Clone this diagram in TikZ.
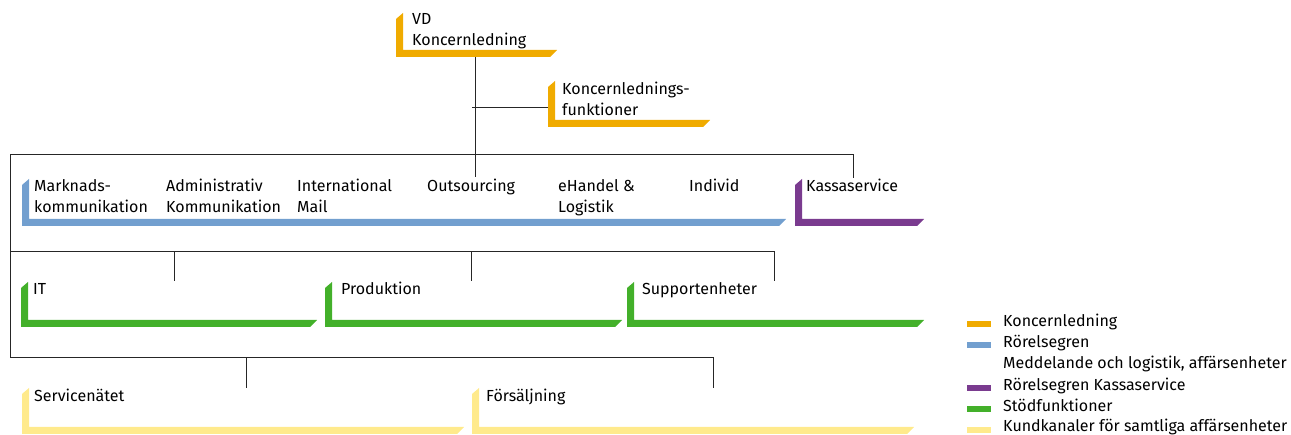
\documentclass[tikz,border=0pt]{standalone}
\usepackage{fontspec}
\setmainfont{Fira Sans}
\definecolor{ledning}{HTML}{F0AB00}
\definecolor{segment}{HTML}{729FCF}
\definecolor{kassa}{HTML}{7A3B8F}
\definecolor{stod}{HTML}{43B02A}
\definecolor{kanal}{HTML}{FFEA8C}
% L-shaped colour frame: colour, left x, top y, right x, bottom y
\newcommand{\unitframe}[5]{%
  \fill[#1] (#2,{#3+6}) -- ({#2+7},#3) -- ({#2+7},{#5-7}) -- (#4,{#5-7})
    -- ({#4-7},#5) -- (#2,#5) -- cycle;}

\begin{document}
\begin{tikzpicture}[x=1pt,y=-1pt]
\tikzset{unit/.style = {anchor=base west,inner sep=0pt,align=left,
  font=\fontsize{16}{20.5}\selectfont}}
\tikzset{link/.style = {black!85,line width=0.9pt}}
\tikzset{swatch/.style = {minimum width=24pt,minimum height=6pt,inner sep=0pt}}
\useasboundingbox (0,0) rectangle (1291,435);
% frames
\unitframe{ledning}{396}{13}{557}{57}
\unitframe{ledning}{548}{81}{710}{127}
\unitframe{segment}{22}{179}{786}{226}
\unitframe{kassa}{795}{179}{924}{226}
\unitframe{stod}{21}{282}{317}{327}
\unitframe{stod}{325}{282}{622}{327}
\unitframe{stod}{627}{282}{924}{327}
\unitframe{kanal}{22}{388}{464}{434}
\unitframe{kanal}{472}{388}{914}{434}
% units (two-line texts sit on the baseline of their last line)
\node[unit] (vd)    at (412,45.5)  {VD\\Koncernledning};
\node[unit] (kfunk) at (562,115.5) {Koncernlednings-\\funktioner};
\node[unit] (mark)  at (34,212.5)  {Marknads-\\kommunikation};
\node[unit] (adm)   at (166,212.5) {Administrativ\\Kommunikation};
\node[unit] (intl)  at (297,212.5) {International\\Mail};
\node[unit] (outs)  at (427,192)   {Outsourcing};
\node[unit] (ehan)  at (558,212.5) {eHandel \&\\Logistik};
\node[unit] (indi)  at (689,192)   {Individ};
\node[unit] (kass)  at (806,192)   {Kassaservice};
\node[unit] (it)    at (33,295)    {IT};
\node[unit] (prod)  at (341,295)   {Produktion};
\node[unit] (supp)  at (642,295)   {Supportenheter};
\node[unit] (serv)  at (34,402)    {Servicenätet};
\node[unit] (sale)  at (486,402)   {Försäljning};
% junctions
\coordinate (vdfoot)  at (475,57);
\coordinate (vdtick)  at (475,177);
\coordinate (kfbr)    at (472,107);
\coordinate (kfin)    at (548,107);
\coordinate (kasstop) at (853,178);
\coordinate (frametl) at (10,154);
\coordinate (frameml) at (10,251);
\coordinate (framebl) at (10,357);
\coordinate (salestop) at (713,388);
\coordinate (supptop) at (774,281);
\coordinate (ittop)   at (174,281);
\coordinate (prodtop) at (471,281);
\coordinate (servtop) at (246,388);
% edges
\draw[link] (vdfoot) -- (vdtick);
\draw[link] (kfbr) -- (kfin);
\draw[link] (kasstop) |- (frametl) -- (framebl) -| (salestop);
\draw[link] (frameml) -| (supptop);
\draw[link] (ittop) -- (ittop |- frameml);
\draw[link] (prodtop) -- (prodtop |- frameml);
\draw[link] (servtop) -- (servtop |- framebl);
% legend
\node[swatch,fill=ledning] (lg1) at (979,324) {};
\node[swatch,fill=segment] (lg2) at (979,345) {};
\node[swatch,fill=kassa]   (lg3) at (979,388) {};
\node[swatch,fill=stod]    (lg4) at (979,409.5) {};
\node[swatch,fill=kanal]   (lg5) at (979,430.5) {};
\node[unit] (lt1) at (1003,327) {Koncernledning};
\node[unit] (lt2) at (1003,348) {Rörelsegren};
\node[unit] (lt3) at (1003,369) {Meddelande och logistik, affärsenheter};
\node[unit] (lt4) at (1003,390.5) {Rörelsegren Kassaservice};
\node[unit] (lt5) at (1003,411.5) {Stödfunktioner};
\node[unit] (lt6) at (1003,432) {Kundkanaler för samtliga affärsenheter};
\end{tikzpicture}
\end{document}
